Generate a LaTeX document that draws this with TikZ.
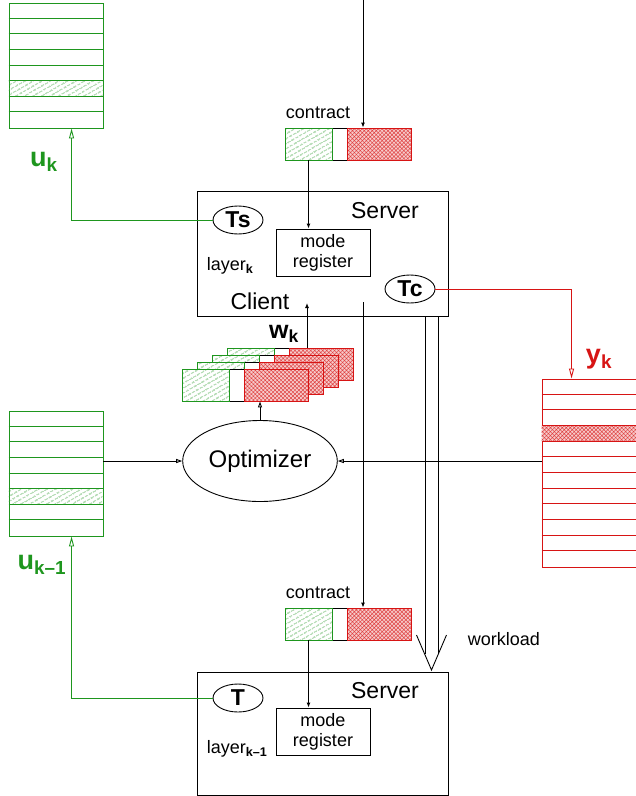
\documentclass[tikz,border=0pt]{standalone}
\usepackage{fontspec}
\setmainfont{Liberation Sans}
\usetikzlibrary{arrows.meta,patterns.meta,calc,shapes.geometric}
\definecolor{gcol}{RGB}{30,150,30}
\definecolor{rcol}{RGB}{215,20,20}
\newcommand\fsz[1]{\fontsize{#1}{#1}\selectfont}
\tikzset{
  srvbox/.style={draw,minimum width=251pt,minimum height=125pt,inner sep=0pt},
  modebox/.style={draw,minimum width=94pt,minimum height=47pt,inner sep=0pt,
    align=center,font=\fontsize{18}{20}\selectfont},
  tnode/.style={draw,ellipse,minimum width=50pt,minimum height=28pt,inner sep=0pt,
    font=\fsz{23}\bfseries},
  ctframe/.style={draw,minimum width=126pt,minimum height=32pt,inner sep=0pt},
  ghatch/.style={pattern={Lines[angle=30,distance=4pt,line width=0.75pt]},pattern color=gcol!90},
  rhatch/.style={preaction={fill=rcol!22},
    pattern={Hatch[angle=45,distance=2.8pt,line width=0.5pt]},pattern color=rcol!80},
  gpart/.style={draw=gcol,ghatch,minimum width=47pt,minimum height=32pt,inner sep=0pt},
  rpart/.style={draw=rcol,rhatch,minimum width=64pt,minimum height=32pt,inner sep=0pt},
  stk/.style={draw,minimum width=94pt,inner sep=0pt},
  lbl/.style={font=\fsz{18}},
  biglbl/.style={font=\fsz{23}},
  varlbl/.style={font=\fsz{27}\bfseries},
  garrow/.style={draw=gcol,-{Triangle[open,length=10pt,width=5pt]}},
  rarrow/.style={draw=rcol,-{Triangle[open,length=10pt,width=5pt]}},
  oarrow/.style={-{Triangle[open,length=6pt,width=4pt]}}
}
\begin{document}
\begin{tikzpicture}[x=1pt,y=-1pt,line width=0.9pt,>={Latex[length=5pt,width=4pt]}]
\useasboundingbox (0,0) rectangle (636,796);
\clip (0,0) rectangle (636,796);

% stacks
\node[stk,draw=gcol,minimum height=125pt] (ustk) at (56,65.5) {};
\fill[ghatch] ($(ustk.north west)+(0,5*15.625)$) rectangle ++(94,15.625);
\foreach \i in {1,...,7}
  \draw[gcol] ($(ustk.north west)+(0,\i*15.625)$) -- ++(94,0);
\node[stk,draw=gcol,minimum height=125pt] (lstk) at (56,473.5) {};
\fill[ghatch] ($(lstk.north west)+(0,5*15.625)$) rectangle ++(94,15.625);
\foreach \i in {1,...,7}
  \draw[gcol] ($(lstk.north west)+(0,\i*15.625)$) -- ++(94,0);
\node[stk,draw=rcol,minimum width=100pt,minimum height=188pt] (ystk) at (592,473) {};
\fill[rhatch] ($(ystk.north west)+(0,3*15.667)$) rectangle ++(100,15.667);
\foreach \i in {1,...,11}
  \draw[rcol] ($(ystk.north west)+(0,\i*15.667)$) -- ++(100,0);

\node[varlbl,text=gcol] (uk) at (44,162) {u\textsubscript{k}};
\node[varlbl,text=gcol] (ukm) at (42,565) {u\textsubscript{k--1}};
\node[varlbl,text=rcol] (yk) at (599,359) {y\textsubscript{k}};

% upper layer
\node[srvbox] (srvk) at (322.5,253.5) {};
\node[biglbl] (srvklbl) at (385,211) {Server};
\node[biglbl] (client) at (260,301) {Client};
\node[lbl,anchor=west] (layk) at (203,266) {layer\textsubscript{\textbf{k}}};
\node[tnode] (ts) at (238,220) {Ts};
\node[tnode] (tc) at (410,289) {Tc};
\node[modebox] (modek) at (323,252.5) {mode\\register};

\node[lbl] (ctklbl) at (318,113) {contract};
\node[ctframe] (ctk) at (348,144) {};
\node[gpart,anchor=west] (ctkg) at (ctk.west) {};
\node[rpart,anchor=east] (ctkr) at (ctk.east) {};

% lower layer
\node[srvbox,minimum height=123pt] (srvl) at (322.5,733.5) {};
\node[biglbl] (srvllbl) at (385,691) {Server};
\node[lbl,anchor=west] (layl) at (203,749) {layer\textsubscript{\textbf{k--1}}};
\node[tnode] (tb) at (238,698) {T};
\node[modebox] (model) at (323,731.5) {mode\\register};

\node[lbl] (ctllbl) at (318,593) {contract};
\node[ctframe] (ctl) at (348,624) {};
\node[gpart,anchor=west] (ctlg) at (ctl.west) {};
\node[rpart,anchor=east] (ctlr) at (ctl.east) {};

% w_k stack
\foreach \i in {3,2,1,0} {
  \node[ctframe,fill=white] (w\i) at (245+15.3*\i,385-7*\i) {};
  \node[gpart,anchor=west] at (w\i.west) {};
  \node[rpart,anchor=east] at (w\i.east) {};
}
\node[font=\fsz{25}\bfseries] (wk) at (284,334) {w\textsubscript{k}};

\node[ellipse,draw,minimum width=126pt,minimum height=81pt,font=\fsz{24}] (opt) at (260,461) {Optimizer};

% connectors
\coordinate (topin) at (363,0);
\coordinate (clientin) at (307,303);
\coordinate (srvout) at (363,302);
\coordinate (wltop) at (431.5,316);
\coordinate (wltip) at (431.5,670);
\draw[->] (topin) -- (topin |- ctkr.north);
\draw[->] (ctkg.south) -- (ctkg.south |- modek.north);
\draw[->] (ctlg.south) -- (ctlg.south |- model.north);
\draw[->] (srvout) -- (srvout |- ctlr.north);
\draw[->] (w3.north -| clientin) -- (clientin);
\draw[oarrow] (opt.north) -- (opt.north |- w0.south);
\draw[oarrow] (lstk.east |- opt.center) -- (opt.west);
\draw[oarrow] (ystk.west |- opt.center) -- (opt.east);
\draw[garrow] (ts.west) -| ($(ustk.south west)+(63,0)$);
\draw[garrow] (tb.west) -| ($(lstk.south west)+(63,0)$);
\draw[rarrow] (tc.east) -| ($(ystk.north west)+(30,0)$);
\draw ($(wltop)+(-6.5,0)$) -- ++(0,338);
\draw ($(wltop)+(6.5,0)$) -- ++(0,338);
\draw (416.5,635) -- (wltip) -- (446.5,635);
\node[lbl] (wload) at (504,639) {workload};
\end{tikzpicture}
\end{document}
